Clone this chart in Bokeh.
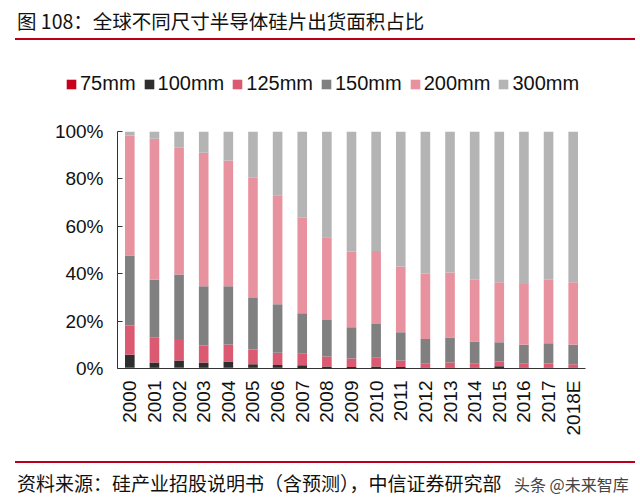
import math
from bokeh.plotting import figure
from bokeh.models import ColumnDataSource, Range1d, FixedTicker, Legend, LegendItem, Div
from bokeh.layouts import column, row
from bokeh.embed import file_html
from bokeh.resources import INLINE

years = ["2000", "2001", "2002", "2003", "2004", "2005", "2006", "2007", "2008", "2009",
         "2010", "2011", "2012", "2013", "2014", "2015", "2016", "2017", "2018E"]
mm75 = [0.4, 0.3, 0.4, 0.3, 0.5, 0.3, 0.3, 0.2, 0.2, 0.2, 0.2, 0.1, 0.1, 0.1, 0.1, 0.1, 0.1, 0.1, 0.1]
mm100 = [5.4, 2.2, 3.0, 2.2, 2.5, 1.5, 1.2, 1.2, 0.6, 0.4, 0.6, 0.5, 0.3, 0.3, 0.3, 0.8, 0.3, 0.3, 0.3]
mm125 = [12.3, 10.7, 9.0, 7.2, 7.1, 6.2, 5.1, 4.8, 4.3, 3.6, 3.7, 2.8, 1.8, 2.1, 1.6, 2.1, 1.6, 1.7, 1.4]
mm150 = [29.6, 24.2, 27.3, 25.0, 24.6, 21.7, 20.5, 17.1, 15.4, 13.2, 14.3, 11.9, 10.2, 10.6, 9.4, 8.1, 8.0, 8.6, 8.2]
mm200 = [50.6, 59.5, 53.4, 56.3, 53.1, 50.8, 46.0, 40.3, 34.9, 32.0, 30.8, 27.7, 27.6, 27.4, 26.0, 25.3, 25.7, 26.7, 26.4]
mm300 = [1.7, 3.1, 6.9, 9.0, 12.2, 19.5, 26.9, 36.4, 44.6, 50.6, 50.4, 57.0, 60.0, 59.5, 62.6, 63.6, 64.3, 62.6, 63.6]
series = ["75mm", "100mm", "125mm", "150mm", "200mm", "300mm"]
colors = ["#C8001E", "#2E2E2E", "#DB5A72", "#808080", "#E8929F", "#B4B4B4"]
yticks = [0, 20, 40, 60, 80, 100]

source = ColumnDataSource(dict(year=years, **{
    "75mm": mm75, "100mm": mm100, "125mm": mm125,
    "150mm": mm150, "200mm": mm200, "300mm": mm300}))

FONT = "Liberation Sans"

# ---- main chart ----
p = figure(x_range=years, y_range=Range1d(0, 100), width=640, height=342,
           output_backend="svg", toolbar_location=None,
           min_border_left=117, min_border_right=55, min_border_top=12, min_border_bottom=93)
p.outline_line_color = None
p.xgrid.grid_line_color = None
p.ygrid.grid_line_color = None
p.background_fill_color = "white"
p.border_fill_color = "white"

rs = p.vbar_stack(series, x="year", width=0.39, color=colors, line_width=0, source=source)

p.yaxis.ticker = FixedTicker(ticks=yticks)
p.yaxis.major_label_overrides = {t: f"{t}%" for t in yticks}
p.yaxis.minor_tick_line_color = None
p.yaxis.major_tick_in = 5
p.yaxis.major_tick_out = 0
p.yaxis.major_label_standoff = 14
p.yaxis.axis_line_color = "#333333"
p.yaxis.major_tick_line_color = "#333333"

p.xaxis.major_tick_line_color = None
p.xaxis.major_label_orientation = math.pi / 2
p.xaxis.major_label_standoff = 6
p.xaxis.axis_line_color = "#333333"

for ax in (p.xaxis, p.yaxis):
    ax.major_label_text_font = FONT
    ax.major_label_text_font_size = "19px"
    ax.major_label_text_color = "#111111"

# ---- legend strip (separate plot, swatches in the same colours) ----
lg = figure(width=640, height=78, x_range=Range1d(0, 640), y_range=Range1d(0, 78),
            output_backend="svg", toolbar_location=None, min_border=0,
            x_axis_type=None, y_axis_type=None)
lg.outline_line_color = None
lg.xgrid.grid_line_color = None
lg.ygrid.grid_line_color = None
lg.border_fill_color = "white"
lg_rs = [lg.rect(x=[-1000], y=[0], width=1, height=1, color=c, line_width=0) for c in colors]

legend = Legend(items=[LegendItem(label=s, renderers=[r]) for s, r in zip(series, lg_rs)],
                orientation="horizontal", location=(65, 24),
                glyph_width=12, glyph_height=12, label_standoff=3, spacing=7,
                padding=2, margin=0, border_line_color=None, background_fill_alpha=0,
                label_text_font=FONT, label_text_font_size="20px", label_text_color="#111111")
lg.add_layout(legend)

title_div = Div(text=(
    '<div style="position:relative;width:640px;height:41px;">'
    '<div style="position:absolute;left:17px;top:9px;font-family:\'Noto Sans CJK SC\';'
    'font-size:19.5px;line-height:24px;color:#111;white-space:nowrap;">'
    '图 108：全球不同尺寸半导体硅片出货面积占比</div>'
    '<div style="position:absolute;left:15px;top:38px;width:620px;height:2px;background:#B8001C;"></div>'
    '</div>'), width=640, height=41, margin=(0, 0, 0, 0))

footer_div = Div(text=(
    '<div style="position:relative;width:640px;height:42px;">'
    '<div style="position:absolute;left:15px;top:0px;width:620px;height:2px;background:#B8001C;"></div>'
    '<div style="position:absolute;left:17px;top:10px;font-family:\'Noto Sans CJK SC\';'
    'font-size:19px;line-height:24px;color:#111;white-space:nowrap;">'
    '资料来源：硅产业招股说明书（含预测），中信证券研究部</div>'
    '<div style="position:absolute;left:514px;top:12px;font-family:\'Noto Sans CJK SC\';'
    'font-size:16px;line-height:22px;color:#444;white-space:nowrap;">头条 @未来智库</div>'
    '</div>'), width=640, height=42, margin=(0, 0, 0, 0))

layout = column(title_div, row(lg), row(p), footer_div, spacing=0)
open("out.html", "w").write(file_html(layout, INLINE))
